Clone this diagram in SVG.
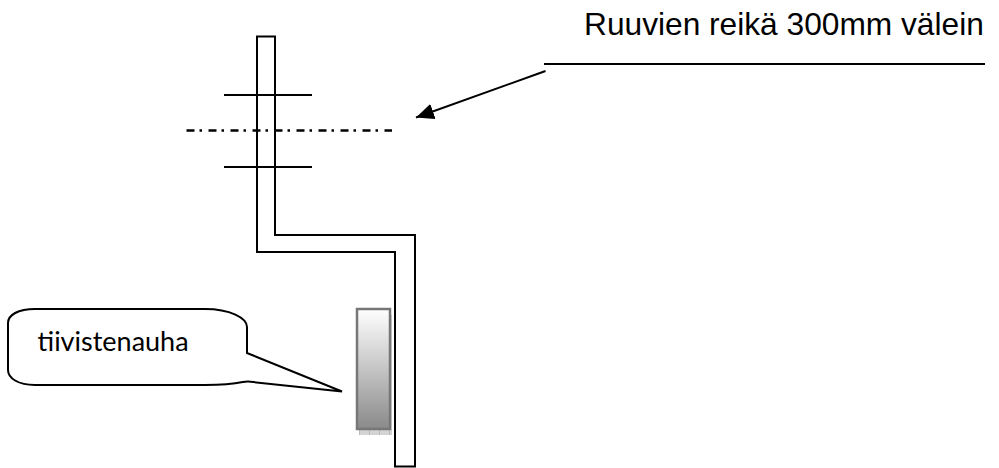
<svg xmlns="http://www.w3.org/2000/svg" width="999" height="468" viewBox="0 0 999 468">
<style>
.l{fill:none;stroke:#000;stroke-width:2}
.d{fill:none;stroke:#000;stroke-width:2.500}
.t{fill:#000}
</style>
<defs>
<linearGradient id="g" x1="0" y1="0" x2="0" y2="1"><stop offset="0" stop-color="#fff"/><stop offset="1" stop-color="#8a8a8a"/></linearGradient>
<pattern id="h" width="10" height="5" patternUnits="userSpaceOnUse"><rect width="10" height="5" fill="#d4d4d4"/><rect x="9" width="1" height="5" fill="#bbb"/></pattern>
<marker id="a" markerUnits="userSpaceOnUse" markerWidth="20" markerHeight="18" refX="18" refY="8" orient="auto"><path d="M0 0L18 8L0 16z" fill="#000"/></marker>
</defs>
<g id="connectors">
<path class="l" d="M545.500 71L416 117.500" marker-end="url(#a)"/>
<path class="l" d="M544 64H985"/>
<path class="l" d="M224 95H312M224 167H312"/>
<path class="d" d="M186.500 130.500H392" stroke-dasharray="8 5 2.500 6.500"/>
</g>
<g id="profile"><path class="l" d="M257 36.500H275V235H415V466.500H395V252H257Z"/></g>
<g id="tape">
<rect x="359" y="315" width="33" height="120" fill="url(#h)"/>
<rect x="357" y="309" width="33" height="120" fill="url(#g)" stroke="#777" stroke-width="2.500"/>
</g>
<g id="callout">
<path class="l" d="M35 309H205C230 309 247 318 247 327V353L342 391.500L248 381.500C243 381 240 385 205 385H35C18 385 8 378 8 370V323C8 315 18 309 35 309Z"/>
<text x="37.500" y="350.500" font-family="Lato, sans-serif" font-size="27" class="t">tiivistenauha</text>
</g>
<g id="label"><text x="584" y="34.500" font-family="Liberation Sans, Arial, sans-serif" font-size="31.700" class="t">Ruuvien reikä 300mm välein</text></g>
</svg>
